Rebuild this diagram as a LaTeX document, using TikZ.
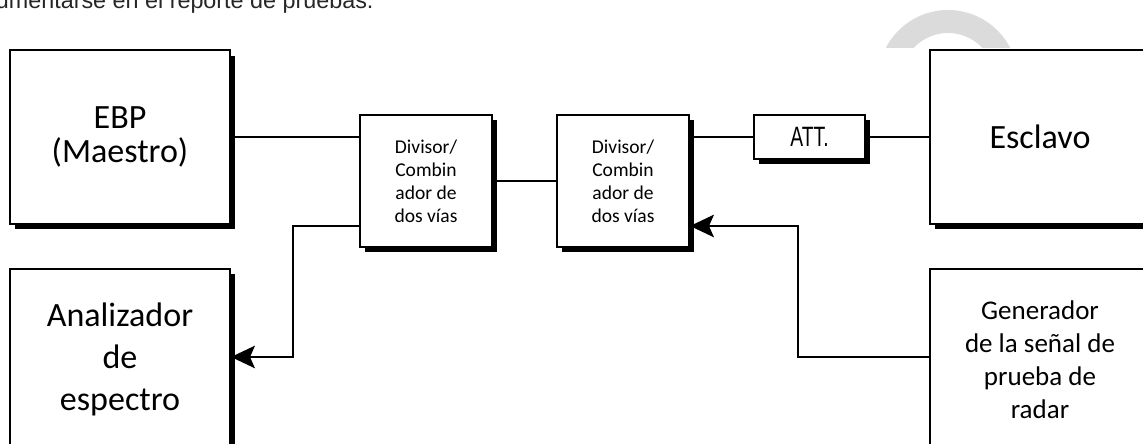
\documentclass[tikz,border=0pt]{standalone}
\usepackage{fontspec}
\usepackage{graphicx}
\setmainfont{Carlito}
\newfontfamily\arialfont{Liberation Sans}
\usetikzlibrary{arrows.meta,shadows}
\tikzset{%
	block/.style    = {draw, line width=1.4pt, rectangle, fill=white, align=center, inner sep=0pt,
		drop shadow={shadow xshift=3.6pt, shadow yshift=-3.6pt, fill=black, opacity=1}},
	big/.style      = {block, minimum width=5.5cm, font=\fontsize{24.2}{29.9}\selectfont}, % Equipos
	split/.style    = {block, minimum width=3.3cm, minimum height=3.3cm,
		font=\fontsize{13.9}{16.4}\selectfont}, % Divisor
	wire/.style     = {line width=1.3pt},
	feed/.style     = {wire, -{Stealth[length=17pt, width=16pt, inset=3.5pt]}}
}

\begin{document}
\begin{tikzpicture}[x=0.025cm,y=-0.025cm]
	\useasboundingbox (0,0) rectangle (1143,444);
	\clip (0,0) rectangle (1143,444);
	
	\begin{scope}
		\clip (0,0) rectangle (1143,48);
		\draw[gray!28, line width=0.575cm] (948,80) circle (58.5);
	\end{scope}
	
	\node[anchor=base east, text=black!85, font=\arialfont\fontsize{16.6}{20}\selectfont] at (378.5,9) (intro) {umentarse en el reporte de pruebas.};
	
	\node[big][minimum height=4.325cm, font=\fontsize{24.2}{24.2}\selectfont] at (120,137) (ebp) {EBP\\(Maestro)};
	\node[big][minimum height=4.525cm] at (120,359.5) (ana) {Analizador\\de\\espectro};
	\node[split] at (426,181) (div1) {Divisor/\\Combin\\ador de\\dos vías};
	\node[split] at (623,181) (div2) {Divisor/\\Combin\\ador de\\dos vías};
	\node[block][minimum width=2.775cm, minimum height=1.1cm, font=\arialfont\fontsize{19.9}{20}\selectfont] at (809.5,137) (att) {\scalebox{0.69}[1]{ATT.}};
	\node[big][minimum height=4.325cm] at (1040,137) (esc) {Esclavo};
	\node[big][minimum height=4.525cm, font=\fontsize{19.2}{23.5}\selectfont] at (1040,359.5) (gen) {Generador\\de la señal de\\prueba de\\radar};
	
	\coordinate (tap1) at (293,226);
	\coordinate (turn1) at (293,357);
	\coordinate (tap2) at (798,226);
	\coordinate (turn2) at (798,357);
	
	\draw[wire] (ebp.east) -- (ebp.east -| div1.west);
	\draw[wire] (div1) -- (div2);
	\draw[wire] (div2.east |- att.west) -- (att);
	\draw[wire] (att) -- (esc);
	\draw[feed] (div1.west |- tap1) -| (turn1) -- (ana.east |- turn1);
	\draw[feed] (gen.west |- turn2) -| (tap2) -- (div2.east |- tap2);
	
\end{tikzpicture}
\end{document}
